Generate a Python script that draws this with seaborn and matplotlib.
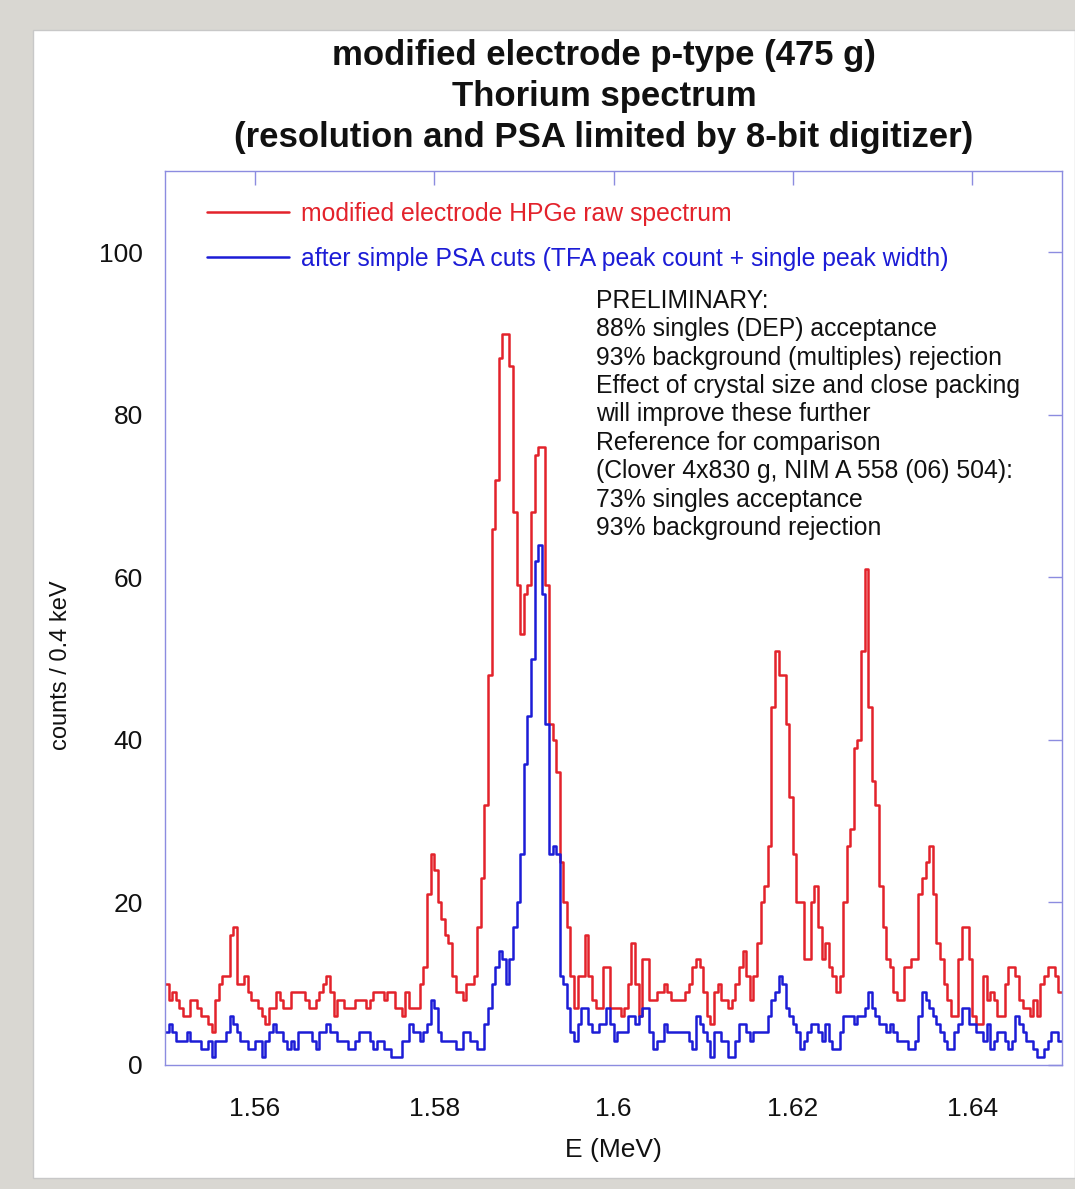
import numpy as np
import pandas as pd
import matplotlib
matplotlib.use("Agg")
import matplotlib.pyplot as plt
from matplotlib.patches import Rectangle
import seaborn as sns

# ---------------- data (counts per 0.4 keV bin, 1.55 - 1.65 MeV) ----------------
E_START = 1.55
BIN_WIDTH = 0.0004

raw_counts = [
    10, 8, 9, 8, 7, 6, 6, 8, 8, 7, 6, 6, 5, 4, 8, 10, 11, 11, 16, 17,
    10, 10, 11, 9, 8, 8, 7, 6, 5, 7, 7, 9, 8, 7, 7, 9, 9, 9, 9, 8,
    7, 7, 8, 9, 10, 11, 9, 6, 8, 8, 7, 7, 7, 8, 8, 8, 7, 8, 9, 9,
    9, 8, 9, 9, 7, 7, 6, 9, 7, 7, 7, 10, 12, 21, 26, 24, 20, 18, 16, 15,
    11, 9, 9, 8, 10, 10, 11, 17, 23, 32, 48, 66, 72, 87, 90, 90, 86, 68, 59, 53,
    58, 59, 68, 75, 76, 76, 59, 42, 40, 36, 25, 20, 17, 11, 7, 11, 11, 16, 11, 8,
    7, 7, 12, 12, 7, 7, 7, 6, 7, 10, 15, 10, 6, 13, 13, 8, 8, 9, 9, 10,
    9, 8, 8, 8, 8, 9, 10, 12, 13, 12, 9, 6, 5, 9, 10, 8, 8, 7, 8, 10,
    12, 14, 11, 8, 11, 15, 20, 22, 27, 44, 51, 48, 48, 42, 33, 26, 20, 20, 13, 13,
    20, 22, 17, 13, 15, 12, 11, 9, 11, 20, 27, 29, 39, 40, 51, 61, 44, 35, 32, 22,
    17, 13, 12, 9, 8, 8, 12, 12, 13, 13, 21, 23, 25, 27, 21, 15, 13, 10, 8, 6,
    6, 13, 17, 17, 13, 6, 5, 5, 11, 8, 9, 8, 6, 6, 10, 12, 12, 11, 8, 7,
    7, 6, 8, 6, 10, 11, 12, 12, 11, 9,
]

psa_counts = [
    4, 5, 4, 3, 3, 3, 4, 3, 3, 3, 2, 2, 3, 1, 3, 3, 3, 4, 6, 5,
    4, 3, 3, 2, 2, 3, 3, 1, 3, 4, 5, 4, 4, 3, 2, 3, 2, 4, 4, 4,
    4, 3, 2, 4, 4, 5, 4, 4, 3, 3, 3, 2, 2, 3, 4, 4, 4, 3, 2, 3,
    3, 2, 2, 1, 1, 1, 3, 3, 5, 4, 4, 3, 4, 5, 8, 7, 4, 3, 3, 3,
    3, 2, 2, 4, 4, 3, 3, 2, 2, 5, 7, 10, 12, 14, 13, 10, 13, 17, 20, 26,
    37, 43, 50, 62, 64, 58, 42, 26, 27, 26, 11, 10, 7, 4, 3, 5, 7, 7, 5, 4,
    4, 5, 5, 7, 5, 3, 4, 4, 4, 6, 6, 5, 6, 7, 7, 4, 2, 3, 3, 5,
    4, 4, 4, 4, 4, 4, 3, 2, 6, 5, 4, 3, 1, 4, 4, 3, 3, 1, 1, 3,
    5, 5, 4, 3, 4, 4, 4, 4, 6, 8, 9, 11, 10, 7, 6, 5, 4, 2, 3, 4,
    5, 5, 4, 3, 5, 3, 2, 2, 4, 6, 6, 6, 5, 6, 6, 7, 9, 7, 6, 5,
    5, 4, 5, 4, 3, 3, 3, 2, 2, 3, 6, 9, 8, 7, 6, 5, 4, 3, 2, 2,
    4, 5, 7, 7, 5, 5, 4, 4, 3, 5, 2, 3, 4, 4, 3, 2, 3, 6, 5, 4,
    3, 3, 2, 1, 1, 2, 3, 4, 4, 3,
]

series_labels = [
    "modified electrode HPGe raw spectrum",
    "after simple PSA cuts (TFA peak count + single peak width)",
]
series_colors = ["#e3222b", "#1c1cd6"]

x_ticks = [1.56, 1.58, 1.60, 1.62, 1.64]
x_tick_labels = ["1.56", "1.58", "1.6", "1.62", "1.64"]
y_ticks = [0, 20, 40, 60, 80, 100]

title_text = ("modified electrode p-type (475 g)\n"
              "Thorium spectrum\n"
              "(resolution and PSA limited by 8-bit digitizer)")
note_text = ("PRELIMINARY:\n"
             "88% singles (DEP) acceptance\n"
             "93% background (multiples) rejection\n"
             "Effect of crystal size and close packing\n"
             "will improve these further\n"
             "Reference for comparison\n"
             "(Clover 4x830 g, NIM A 558 (06) 504):\n"
             "73% singles acceptance\n"
             "93% background rejection")

# ---------------- build long table (bin edges, steps-post) ----------------
frames = []
for lab, vals in zip(series_labels, [raw_counts, psa_counts]):
    n = len(vals)
    edges = E_START + BIN_WIDTH * np.arange(n + 1)
    y = list(vals) + [vals[-1]]
    frames.append(pd.DataFrame({"E": edges, "counts": y, "series": lab}))
df = pd.concat(frames, ignore_index=True)

# ---------------- figure ----------------
sns.set_style("white")
plt.rcParams["font.family"] = ["Liberation Sans", "DejaVu Sans"]

W, H = 1075, 1189
fig = plt.figure(figsize=(W / 100, H / 100), dpi=100)
fig.patch.set_facecolor("#d9d7d2")
fig.add_artist(Rectangle((33 / W, 1 - 1178 / H), (W - 33) / W, (1178 - 30) / H,
                         transform=fig.transFigure, facecolor="white",
                         edgecolor="#c8c8c8", lw=1, zorder=0))

ax = fig.add_axes([165 / W, 1 - 1065 / H, (1062 - 165) / W, (1065 - 171) / H])
ax.set_facecolor("white")

sns.lineplot(data=df, x="E", y="counts", hue="series",
             hue_order=series_labels, palette=series_colors,
             drawstyle="steps-post", linewidth=1.8, legend=False,
             estimator=None, sort=False, ax=ax)

ax.set_xlim(1.55, 1.65)
ax.set_ylim(0, 110)
ax.set_xticks(x_ticks)
ax.set_xticklabels(x_tick_labels)
ax.set_yticks(y_ticks)

spine_col = "#8c8ce0"
for s in ax.spines.values():
    s.set_color(spine_col)
    s.set_linewidth(1.0)
ax.tick_params(axis="both", direction="in", length=10, width=1,
               color=spine_col, top=True, right=True,
               labelsize=19, labelcolor="#111111")
ax.tick_params(axis="y", pad=16)
ax.tick_params(axis="x", pad=23)

ax.set_xlabel("E (MeV)", fontsize=19, color="#111111", labelpad=12)
ax.set_ylabel("counts / 0.4 keV", fontsize=17, color="#111111")
ax.yaxis.set_label_coords(-(165 - 72) / 897, (1065 - 665) / 894)

# legend
handles = ax.get_lines()[:2]
leg = ax.legend(handles, series_labels, loc="upper left",
                bbox_to_anchor=((207 - 165) / 897, (1065 - 202) / 894),
                frameon=False, fontsize=17.8, handlelength=3.3,
                handletextpad=0.5, labelspacing=0.85,
                borderaxespad=0, borderpad=0)
for txt, col in zip(leg.get_texts(), series_colors):
    txt.set_color(col)

# annotation
ax.text((596 - 165) / 897, (1065 - 289) / 894, note_text, transform=ax.transAxes,
        ha="left", va="top", fontsize=17.8, linespacing=1.23, color="#111111")

# title
fig.text(604 / W, 1 - 39 / H, title_text, ha="center", va="top",
         fontsize=25, fontweight="bold", linespacing=1.3, color="#111111")

fig.savefig("out.png", dpi=100, facecolor=fig.get_facecolor())
